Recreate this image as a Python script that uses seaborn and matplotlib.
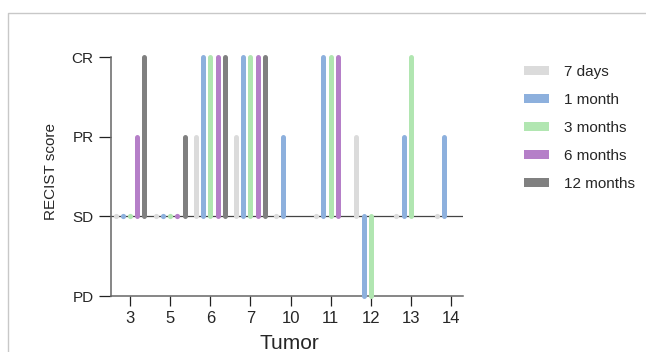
"""
RECIST response per tumor over follow-up time.
"""

import matplotlib

matplotlib.use("Agg")
import matplotlib.pyplot as plt
from matplotlib.lines import Line2D
from matplotlib.patches import Patch
import numpy as np
import pandas as pd
import seaborn as sns

nan = np.nan

tumors = ["3", "5", "6", "7", "10", "11", "12", "13", "14"]
timepoints = ["7 days", "1 month", "3 months", "6 months", "12 months"]

# RECIST score: PD=-1, SD=0, PR=1, CR=2 ; nan = not assessed
score_7d = [0, 0, 1, 1, 0, 0, 1, 0, 0]
score_1m = [0, 0, 2, 2, 1, 2, -1, 1, 1]
score_3m = [0, 0, 2, 2, nan, 2, -1, 2, nan]
score_6m = [1, 0, 2, 2, nan, 2, nan, nan, nan]
score_12m = [2, 1, 2, 2, nan, nan, nan, nan, nan]

score_ticks = [-1, 0, 1, 2]
score_labels = ["PD", "SD", "PR", "CR"]

_PALETTE = {
    "7 days": "#DBDBDB",
    "1 month": "#8DB0DD",
    "3 months": "#B1E6B1",
    "6 months": "#B57FC8",
    "12 months": "#808080",
}


def _long_frame() -> pd.DataFrame:
    rows = []
    for tp, vals in zip(timepoints, [score_7d, score_1m, score_3m, score_6m, score_12m]):
        for tumor, v in zip(tumors, vals):
            if not np.isnan(v):
                rows.append({"Tumor": tumor, "time": tp, "score": v})
    return pd.DataFrame(rows)


def main() -> None:
    sns.set_theme(style="ticks")
    plt.rcParams["font.family"] = ["Liberation Sans", "DejaVu Sans"]

    df = _long_frame()

    fig = plt.figure(figsize=(6.46, 3.52), dpi=100)
    ax = fig.add_axes([111 / 646, 1 - 296 / 352, 352 / 646, 239 / 352])

    sns.barplot(
        data=df, x="Tumor", y="score", hue="time",
        order=tumors, hue_order=timepoints, palette=_PALETTE, saturation=1,
        width=0.9, gap=0.3, errorbar=None, legend=False, ax=ax,
    )

    # redraw each seaborn bar as a round-capped stick; SD scores become dots
    for p in list(ax.patches):
        xc = p.get_x() + p.get_width() / 2
        y0 = p.get_y()
        y1 = p.get_y() + p.get_height()
        color = p.get_facecolor()
        p.set_visible(False)
        if y0 == y1:
            ax.scatter([xc], [y0], s=14, color=color, linewidths=0, zorder=3, clip_on=False)
        else:
            ax.plot([xc, xc], [y0, y1], color=color, lw=3.6, solid_capstyle="round",
                    zorder=3, clip_on=False)

    ax.axhline(0, color="#444444", lw=0.9, zorder=1)

    ax.set_ylim(-1, 2)
    ax.set_xlim(-0.475, 8.3)
    ax.set_yticks(score_ticks)
    ax.set_yticklabels(score_labels, fontsize=11)
    ax.tick_params(axis="y", length=8.5, width=0.9, color="#222222", pad=4)
    ax.tick_params(axis="x", length=7, width=0.9, color="#222222", labelsize=12, pad=4)

    ax.set_xlabel("Tumor", fontsize=15)
    ax.set_ylabel("RECIST score", fontsize=11)
    ax.xaxis.set_label_coords(0.508, -0.16)
    ax.yaxis.set_label_coords(-0.15, 0.52)

    sns.despine(ax=ax)
    for side in ("left", "bottom"):
        ax.spines[side].set_color("#666666")
        ax.spines[side].set_linewidth(1.1)

    handles = [Patch(facecolor=_PALETTE[t], edgecolor="none") for t in timepoints]
    ax.legend(
        handles, timepoints, loc="upper left", frameon=False, fontsize=11,
        bbox_to_anchor=(524 / 646, 1 - 65 / 352), bbox_transform=fig.transFigure,
        borderaxespad=0, borderpad=0, handlelength=1.65, handleheight=0.5,
        handletextpad=1.0, labelspacing=0.92,
    )

    # light frame line at the top and left edges
    fig.add_artist(Line2D([8 / 646, 8 / 646, 1], [0, 1 - 13 / 352, 1 - 13 / 352],
                          transform=fig.transFigure, color="#C8C8C8", lw=1))

    fig.savefig("out.png", dpi=100)
    plt.close(fig)


if __name__ == "__main__":
    main()
